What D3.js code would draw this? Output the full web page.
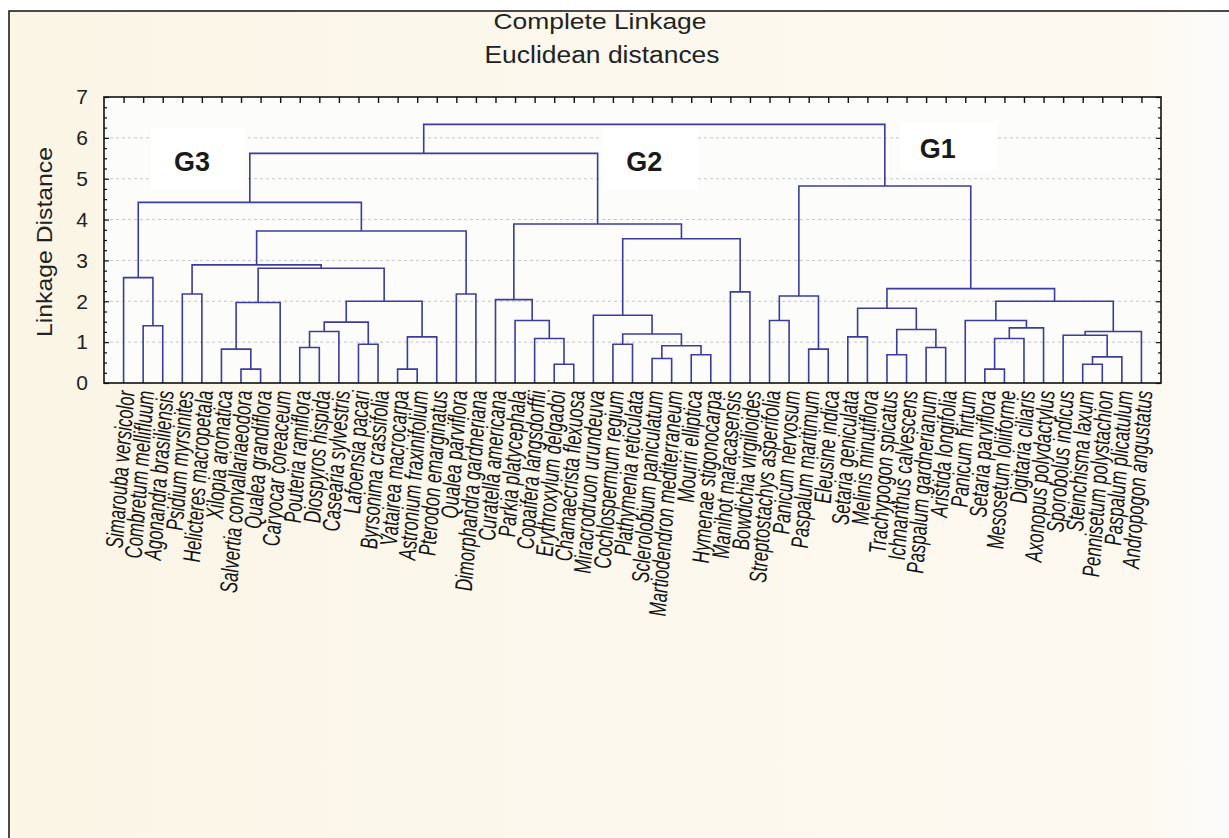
<!DOCTYPE html>
<html>
<head>
<meta charset="utf-8">
<script src="https://cdn.jsdelivr.net/npm/d3@7/dist/d3.min.js"></script>
<style>
  html, body { margin: 0; padding: 0; background: #ffffff; }
  svg { display: block; font-family: "Liberation Sans", Arial, sans-serif; }
</style>
</head>
<body>
<svg id="chart" width="1229" height="838"></svg>
<script>
// ---------------- DATA ----------------
const titleLines = ["Complete Linkage", "Euclidean distances"];
const yAxisTitle = "Linkage Distance";
const yTickValues = [0, 1, 2, 3, 4, 5, 6, 7];
const gridValues = [1, 2, 3, 4, 5, 6];

const leafNames = [
  "Simarouba versicolor", "Combretum mellifluum", "Agonandra brasiliensis", "Psidium myrsinites",
  "Helicteres macropetala", "Xilopia aromatica", "Salvertia convallariaeodora", "Qualea grandiflora",
  "Caryocar coreaceum", "Pouteria ramiflora", "Diospyros hispida", "Casearia sylvestris",
  "Lafoensia pacari", "Byrsonima crassifolia", "Vatairea macrocarpa", "Astronium fraxinifolium",
  "Pterodon emarginatus", "Qualea parviflora", "Dimorphandra gardneriana", "Curatella americana",
  "Parkia platycephala", "Copaifera langsdorffii", "Erythroxylum delgadoi", "Chamaecrista flexuosa",
  "Miracrodruon urundeuva", "Cochlospermum regium", "Plathymenia reticulata", "Sclerolobium paniculatum",
  "Martiodendron mediterraneum", "Mouriri elliptica", "Hymenae stigonocarpa", "Manihot maracasensis",
  "Bowdichia virgilioides", "Streptostachys asperifolia", "Panicum nervosum", "Paspalum maritimum",
  "Eleusine indica", "Setaria geniculata", "Melinis minutiflora", "Trachypogon spicatus",
  "Ichnanthus calvescens", "Paspalum gardnerianum", "Aristida longifolia", "Panicum hirtum",
  "Setaria parviflora", "Mesosetum loliiforme", "Digitaria ciliaris", "Axonopus polydactylus",
  "Sporobolus indicus", "Steinchisma laxum", "Pennisetum polystachion", "Paspalum plicatulum",
  "Andropogon angustatus"
];

// Merges: ids 0..52 are leaves, merge k gets id 53 + k
const mergeLeft = [
  1, 0, 3, 6, 5, 57, 9, 59, 12, 60, 14, 63, 62, 58, 55, 17, 67, 54,
  22, 21, 20, 19, 25, 27, 29, 76, 75, 24, 31, 80, 74, 70,
  33, 35, 85, 37, 39, 41, 89, 88, 44, 93, 94, 43, 49, 97, 48, 99, 96, 92, 87,
  84
];
const mergeRight = [
  2, 53, 4, 7, 56, 8, 10, 11, 13, 61, 15, 16, 64, 65, 66, 18, 68, 69,
  23, 71, 72, 73, 26, 28, 30, 77, 78, 79, 32, 81, 82, 83,
  34, 36, 86, 38, 40, 42, 90, 91, 45, 46, 47, 95, 50, 51, 98, 52, 100, 101, 102,
  103
];
const mergeHeight = [
  1.40, 2.58, 2.18, 0.34, 0.83, 1.97, 0.87, 1.26, 0.95, 1.49, 0.34, 1.13, 2.00, 2.81, 2.89, 2.18, 3.72, 4.42,
  0.46, 1.09, 1.53, 2.04, 0.95, 0.60, 0.69, 0.91, 1.20, 1.66, 2.23, 3.53, 3.89, 5.62,
  1.53, 0.83, 2.13, 1.13, 0.69, 0.87, 1.31, 1.83, 0.34, 1.09, 1.35, 1.53, 0.46, 0.64, 1.17, 1.26, 2.00, 2.31, 4.82,
  6.33
];

const groupLabels = ["G3", "G2", "G1"];
const groupLeafPos = [4.5, 27.6, 42.6];     // horizontal position in leaf units
const groupHeight = [5.2, 5.2, 5.5];        // vertical position in distance units

// ---------------- LAYOUT ----------------
const svg = d3.select("#chart");
const W = 1229, H = 838;
const plot = { left: 104, right: 1161, top: 97, bottom: 383 };

const x = d3.scaleLinear().domain([0, leafNames.length + 1]).range([plot.left, plot.right]);
const y = d3.scaleLinear().domain([0, 7]).range([plot.bottom, plot.top]);

// background
const defs = svg.append("defs");
const bg = defs.append("linearGradient").attr("id", "bgGrad").attr("x1", "0").attr("x2", "1").attr("y1", "0").attr("y2", "0");
bg.append("stop").attr("offset", "0").attr("stop-color", "#fbf5e6");
bg.append("stop").attr("offset", "0.5").attr("stop-color", "#fcf8ed");
bg.append("stop").attr("offset", "0.93").attr("stop-color", "#fdf9f0");
bg.append("stop").attr("offset", "1").attr("stop-color", "#fbfbfd");

svg.append("rect").attr("x", 0).attr("y", 0).attr("width", W).attr("height", H).attr("fill", "#ffffff");
svg.append("rect").attr("x", 9).attr("y", 11).attr("width", W - 9).attr("height", H - 11).attr("fill", "url(#bgGrad)");
// outer frame (top + left)
svg.append("path").attr("d", `M9,${H} V11 H${W}`).attr("fill", "none").attr("stroke", "#111").attr("stroke-width", 1.5);

// plot background
svg.append("rect")
  .attr("x", plot.left).attr("y", plot.top)
  .attr("width", plot.right - plot.left).attr("height", plot.bottom - plot.top)
  .attr("fill", "#fcfcfa");

// grid lines
svg.append("g").selectAll("line").data(gridValues).join("line")
  .attr("x1", plot.left).attr("x2", plot.right)
  .attr("y1", d => y(d)).attr("y2", d => y(d))
  .attr("stroke", "#c4c4cf").attr("stroke-width", 1).attr("stroke-dasharray", "3,3");

// white boxes behind group labels (mask grid lines)
const gBoxes = [
  { x0: 151, x1: 245, y0: 128, y1: 190 },
  { x0: 602, x1: 698, y0: 128, y1: 190 },
  { x0: 900, x1: 998, y0: 122, y1: 170 }
];
svg.append("g").selectAll("rect").data(gBoxes).join("rect")
  .attr("x", d => d.x0).attr("y", d => d.y0)
  .attr("width", d => d.x1 - d.x0).attr("height", d => d.y1 - d.y0)
  .attr("fill", "#ffffff");

// ---------------- DENDROGRAM ----------------
const nLeaves = leafNames.length;
const nodeX = [], nodeH = [];
for (let i = 0; i < nLeaves; i++) { nodeX[i] = i + 1; nodeH[i] = 0; }
for (let k = 0; k < mergeHeight.length; k++) {
  const a = mergeLeft[k], b = mergeRight[k];
  nodeX[nLeaves + k] = (nodeX[a] + nodeX[b]) / 2;
  nodeH[nLeaves + k] = mergeHeight[k];
}
const links = mergeHeight.map((h, k) => ({ a: mergeLeft[k], b: mergeRight[k], h }));

svg.append("g").selectAll("path").data(links).join("path")
  .attr("d", d => {
    const p = d3.path();
    p.moveTo(x(nodeX[d.a]), y(nodeH[d.a]));
    p.lineTo(x(nodeX[d.a]), y(d.h));
    p.lineTo(x(nodeX[d.b]), y(d.h));
    p.lineTo(x(nodeX[d.b]), y(nodeH[d.b]));
    return p.toString();
  })
  .attr("fill", "none")
  .attr("stroke", "#3b3ba0")
  .attr("stroke-width", 1.6);

// ---------------- AXES ----------------
const minorTicks = d3.range(0, 7.001, 0.25);

const leftAxis = svg.append("g").attr("transform", `translate(${plot.left},0)`)
  .call(d3.axisLeft(y).tickValues(minorTicks).tickSize(-3).tickPadding(16)
    .tickFormat(d => yTickValues.includes(d) ? d : ""));
leftAxis.select(".domain").remove();
leftAxis.selectAll(".tick line").attr("stroke", "#111").attr("stroke-width", 1.2)
  .attr("x2", d => Number.isInteger(d) ? 5 : 3);
leftAxis.selectAll(".tick text").attr("font-size", 21).attr("fill", "#222")
  .attr("font-family", "'Liberation Sans', Arial, sans-serif");

const rightAxis = svg.append("g").attr("transform", `translate(${plot.right},0)`)
  .call(d3.axisRight(y).tickValues(minorTicks).tickSize(-3).tickFormat(""));
rightAxis.select(".domain").remove();
rightAxis.selectAll(".tick line").attr("stroke", "#111").attr("stroke-width", 1.2)
  .attr("x2", d => Number.isInteger(d) ? -5 : -3);

const topAxis = svg.append("g").attr("transform", `translate(0,${plot.top})`)
  .call(d3.axisTop(x).tickValues(d3.range(1, nLeaves + 1)).tickSize(-6).tickFormat(""));
topAxis.select(".domain").remove();
topAxis.selectAll(".tick line").attr("stroke", "#111").attr("stroke-width", 1.4);

// plot frame
svg.append("rect")
  .attr("x", plot.left).attr("y", plot.top)
  .attr("width", plot.right - plot.left).attr("height", plot.bottom - plot.top)
  .attr("fill", "none").attr("stroke", "#111").attr("stroke-width", 1.6);

// ---------------- LEAF LABELS ----------------
svg.append("g").selectAll("text").data(leafNames).join("text")
  .attr("transform", (d, i) => `translate(${x(i + 1) + 11},${plot.bottom + 8}) scale(1.45,1) rotate(-87)`)
  .attr("text-anchor", "end")
  .attr("font-size", 16.8)
  .attr("font-style", "italic")
  .attr("fill", "#141414")
  .text(d => d);

// ---------------- TEXTS ----------------
svg.append("text").attr("x", 600).attr("y", 29).attr("text-anchor", "middle")
  .attr("font-size", 22).attr("fill", "#222")
  .attr("textLength", 213).attr("lengthAdjust", "spacingAndGlyphs")
  .text(titleLines[0]);
svg.append("text").attr("x", 602).attr("y", 63).attr("text-anchor", "middle")
  .attr("font-size", 23).attr("fill", "#222")
  .attr("textLength", 235).attr("lengthAdjust", "spacingAndGlyphs")
  .text(titleLines[1]);

svg.append("text")
  .attr("transform", `translate(52,${(plot.top + plot.bottom) / 2 + 2}) rotate(-90)`)
  .attr("text-anchor", "middle")
  .attr("font-size", 22).attr("fill", "#222")
  .attr("textLength", 190).attr("lengthAdjust", "spacingAndGlyphs")
  .text(yAxisTitle);

// group labels
svg.append("g").selectAll("text").data(groupLabels).join("text")
  .attr("x", (d, i) => x(groupLeafPos[i]))
  .attr("y", (d, i) => y(groupHeight[i]))
  .attr("text-anchor", "middle")
  .attr("font-size", 27).attr("font-weight", "bold").attr("fill", "#1a1a1a")
  .text(d => d);
</script>
</body>
</html>
